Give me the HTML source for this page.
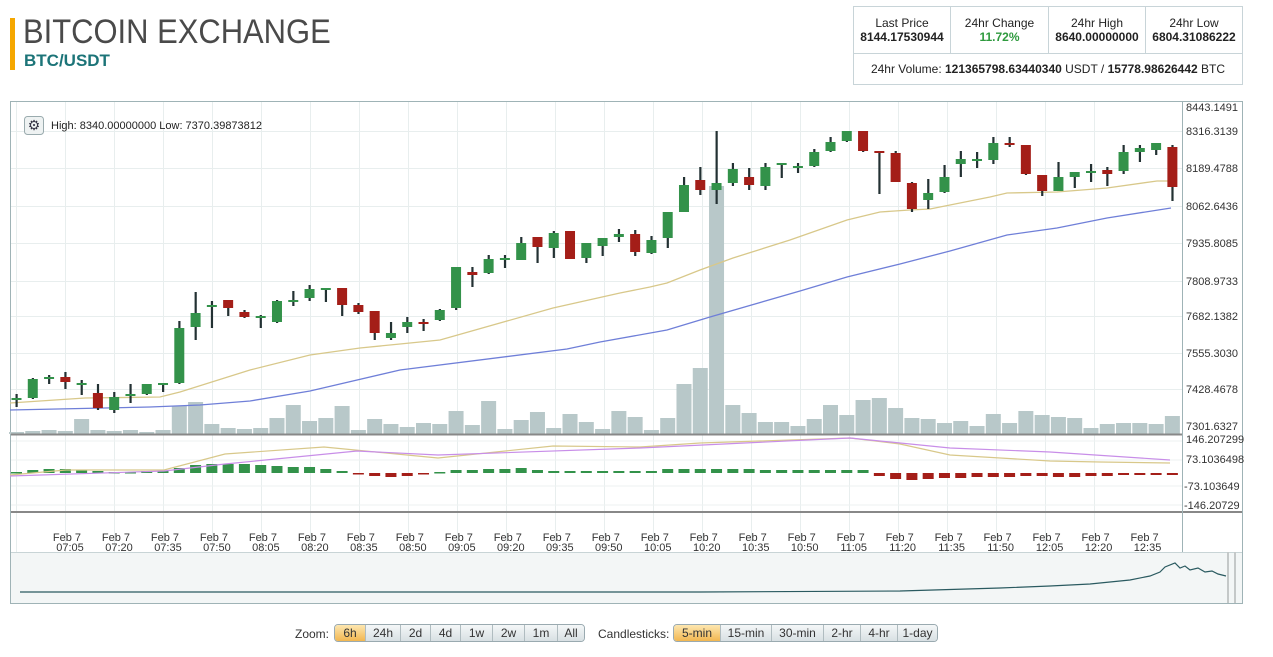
<!DOCTYPE html>
<html><head><meta charset="utf-8">
<style>
body{margin:0;width:1273px;height:657px;background:#fff;font-family:"Liberation Sans",sans-serif;position:relative;overflow:hidden}
.bar{position:absolute;left:10px;top:18px;width:5px;height:52px;background:#f5a700}
.t1{position:absolute;left:23px;top:13px;font-size:34px;color:#4a4a4a;transform:scaleX(0.91);transform-origin:0 0;white-space:nowrap}
.t2{position:absolute;left:24px;top:51px;font-size:17px;font-weight:bold;color:#1c7478}
table{position:absolute;left:853px;top:6px;border-collapse:collapse;font-size:12px;color:#222}
td{border:1px solid #c8d4d8;text-align:center;padding:0}
.btn{position:absolute;top:624px;height:16px;border:1px solid #9aaab0;border-radius:4px;display:flex;overflow:hidden;font-size:12px;color:#333}
.btn div{border-right:1px solid #b0bcc0;text-align:center;line-height:16px;background:linear-gradient(#f4f7f8,#d8e0e3)}
.btn div:last-child{border-right:none}
.btn .on{background:linear-gradient(#fde6b0,#f2b650)}
.lbl{position:absolute;top:627px;font-size:12px;color:#333}
</style></head><body>
<div class="bar"></div>
<div class="t1">BITCOIN EXCHANGE</div>
<div class="t2">BTC/USDT</div>
<table>
<tr style="height:47px"><td style="width:96px">Last Price<br><b>8144.17530944</b></td><td style="width:97px">24hr Change<br><b style="color:#2e9a3e">11.72%</b></td><td style="width:96px">24hr High<br><b>8640.00000000</b></td><td style="width:96px">24hr Low<br><b>6804.31086222</b></td></tr>
<tr style="height:31px"><td colspan="4">24hr Volume: <b>121365798.63440340</b> USDT / <b>15778.98626442</b> BTC</td></tr>
</table>
<svg id="c" width="1273" height="657" style="position:absolute;left:0;top:0" xmlns="http://www.w3.org/2000/svg">
<rect x="10.5" y="101.5" width="1232" height="502" fill="#fff" stroke="#9fb3b6"/>
<g id="grid" stroke="#e8eeee" stroke-width="1"></g>
<g id="vol" fill="#b8c8c9"></g>
<polyline fill="none" stroke="#d8c88a" stroke-width="1.3" points="10,403 85,398 160,397 180,392 250,370 310,355 360,348 400,344 440,340 553,308 620,293 650,287 667,283 700,270 733,258 790,240 847,220 880,212 910,210 930,209 990,197 1007,193 1057,192 1107,188 1157,181 1171,181"/>
<polyline fill="none" stroke="#6f7fd8" stroke-width="1.3" points="10,410 150,407 200,405 250,401 310,391 400,370 567,349 600,342 667,330 710,317 800,291 847,277 900,264 950,251 1007,235 1057,228 1107,218 1171,208"/>
<g id="cd"></g>
<line x1="11" y1="434.5" x2="1182" y2="434.5" stroke="#888" stroke-width="2"/>
<line x1="11" y1="512" x2="1242" y2="512" stroke="#888" stroke-width="2"/>
<g stroke="#eef2f2"><line x1="11" y1="441" x2="1182" y2="441"/><line x1="11" y1="460" x2="1182" y2="460"/><line x1="11" y1="486" x2="1182" y2="486"/><line x1="11" y1="505" x2="1182" y2="505"/></g>
<g id="osc"></g>
<polyline fill="none" stroke="#d8c88a" stroke-width="1.2" points="10,475 66,470 164,470 225,454 324,447 438,458 553,446 640,447 700,443 850,438 900,444 950,455 1050,461 1100,462 1170,463"/>
<polyline fill="none" stroke="#c88ee8" stroke-width="1.2" points="10,476 164,471 225,464 357,451 438,455 640,448 850,438 950,448 1050,452 1170,460"/>
<line x1="1182.5" y1="102" x2="1182.5" y2="552" stroke="#9fb3b6"/>
<g font-size="11" fill="#333" id="ax">
<text x="1186" y="111">8443.1491</text><text x="1186" y="135">8316.3139</text><text x="1186" y="172">8189.4788</text><text x="1186" y="210">8062.6436</text><text x="1186" y="247">7935.8085</text><text x="1186" y="285">7808.9733</text><text x="1186" y="320">7682.1382</text><text x="1186" y="357">7555.3030</text><text x="1186" y="393">7428.4678</text><text x="1186" y="430">7301.6327</text>
<text x="1186" y="443">146.207299</text><text x="1186" y="463">73.1036498</text><text x="1184" y="490">-73.103649</text><text x="1184" y="509">-146.20729</text>
</g>
<g font-size="11" fill="#333" text-anchor="middle" id="xl"></g>
<rect x="11" y="552" width="1231" height="51" fill="#f3f6f6"/>
<line x1="11" y1="552.5" x2="1242" y2="552.5" stroke="#c8d4d6"/>
<polyline fill="none" stroke="#2a5a60" stroke-width="1.2" points="20,592 300,592 700,592 900,591 1000,588 1050,586 1090,584 1130,580 1150,576 1160,572 1165,567 1175,563 1180,568 1185,566 1190,570 1198,568 1205,572 1212,571 1218,574 1226,576"/>
<rect x="1227" y="552" width="2" height="51" fill="#c4c8c8"/><rect x="1234" y="552" width="2" height="51" fill="#c4c8c8"/>
<rect x="24.5" y="116.5" width="19" height="18" rx="3" fill="#eef2f2" stroke="#9aabae"/>
<text x="34" y="130" font-size="14" text-anchor="middle" fill="#334">⚙</text>
<text x="51" y="129" font-size="11" fill="#222">High: 8340.00000000  Low: 7370.39873812</text>
</svg>
<div class="lbl" style="left:295px">Zoom:</div>
<div class="btn" style="left:334px;width:249px"><div class="on" style="width:30px">6h</div><div style="width:34px">24h</div><div style="width:29px">2d</div><div style="width:29px">4d</div><div style="width:31px">1w</div><div style="width:31px">2w</div><div style="width:32px">1m</div><div style="flex:1">All</div></div>
<div class="lbl" style="left:598px">Candlesticks:</div>
<div class="btn" style="left:673px;width:263px"><div class="on" style="width:46px">5-min</div><div style="width:50px">15-min</div><div style="width:51px">30-min</div><div style="width:36px">2-hr</div><div style="width:36px">4-hr</div><div style="flex:1">1-day</div></div>
<script>
var NS="http://www.w3.org/2000/svg";
function el(p,t,a){var e=document.createElementNS(NS,t);for(var k in a)e.setAttribute(k,a[k]);p.appendChild(e);return e;}
var g=document.getElementById('grid');
[131,168,206,243,281,316,353,389].forEach(function(y){el(g,'line',{x1:11,x2:1182,y1:y+.5,y2:y+.5});});
for(var i=0;i<23;i++){var x=Math.round(16+i*48.98)+.5;el(g,'line',{x1:x,x2:x,y1:102,y2:552});}
var xl=document.getElementById('xl');
var times=["07:05","07:20","07:35","07:50","08:05","08:20","08:35","08:50","09:05","09:20","09:35","09:50","10:05","10:20","10:35","10:50","11:05","11:20","11:35","11:50","12:05","12:20","12:35"];
times.forEach(function(t,i){var x=67+i*48.98;var a=el(xl,'text',{x:x,y:541});a.textContent="Feb 7";var b=el(xl,'text',{x:x+3,y:551});b.textContent=t;});
var C=[[398,400,394,407,'g'],[379,398,378,399,'g'],[377,379,375,384,'g'],[377,382,372,389,'r'],[383,385,380,395,'g'],[393,408,384,410,'r'],[397,410,392,413,'g'],[394,396,384,403,'g'],[384,394,384,395,'g'],[383,385,384,392,'g'],
[328,383,321,384,'g'],[313,327,292,340,'g'],[305,307,301,328,'g'],[300,308,300,316,'r'],[312,317,310,318,'r'],[316,318,315,328,'g'],[301,322,300,323,'g'],[300,302,291,306,'g'],[289,298,285,301,'g'],[288,290,288,302,'g'],
[288,305,288,316,'r'],[305,312,303,314,'r'],[311,333,311,340,'r'],[333,338,322,340,'g'],[322,327,317,333,'g'],[322,324,319,331,'r'],[310,320,309,321,'g'],[267,308,267,310,'g'],[272,275,267,287,'r'],[259,273,255,274,'g'],
[258,260,255,268,'g'],[243,260,237,260,'g'],[237,247,237,263,'r'],[233,248,231,258,'g'],[231,259,231,259,'r'],[243,258,243,263,'g'],[238,246,238,256,'g'],[234,237,229,242,'g'],[234,252,230,256,'r'],[240,253,236,254,'g'],
[212,238,212,248,'g'],[185,212,177,212,'g'],[180,190,167,195,'r'],[183,190,131,204,'g'],[169,183,163,186,'g'],[177,185,168,190,'r'],[167,186,163,190,'g'],[163,165,163,178,'g'],[166,168,163,173,'g'],[152,166,149,167,'g'],
[142,151,137,152,'g'],[131,141,131,142,'g'],[131,151,131,152,'r'],[151,153,152,194,'r'],[153,182,151,182,'r'],[183,209,182,212,'r'],[193,200,179,209,'g'],[177,192,165,193,'g'],[159,164,151,177,'g'],[159,161,152,168,'g'],
[143,160,137,164,'g'],[143,145,137,147,'r'],[145,174,145,175,'r'],[175,191,175,196,'r'],[177,191,162,191,'g'],[172,177,172,188,'g'],[171,173,164,182,'g'],[170,174,167,186,'r'],[152,171,145,174,'g'],[148,152,145,162,'g'],[143,150,143,155,'g'],[147,187,145,201,'r']];
var V=[432,431,430,431,419,430,431,430,432,430,406,402,424,428,429,428,418,405,421,418,406,430,419,424,427,423,424,411,425,401,429,420,412,428,414,422,429,411,417,430,418,384,368,186,405,413,422,422,426,419,405,415,400,398,408,418,419,423,421,426,414,423,411,415,417,418,428,424,423,423,424,416];
var O=[472,470,469,469,470,471,472,472,471,471,468,465,464,464,464,465,466,467,467,469,471,-474,-476,-477,-476,-474,472,470,470,469,469,468,470,471,471,471,471,471,471,471,469,469,469,469,469,469,470,470,470,470,470,470,470,-476,-479,-480,-479,-478,-478,-477,-477,-477,-476,-476,-477,-477,-476,-476,-475,-475,-475,-475];
var cd=document.getElementById('cd'),vg=document.getElementById('vol'),og=document.getElementById('osc');
for(var i=0;i<C.length;i++){var x=16.5+i*16.28,c=C[i];
 el(vg,'rect',{x:x-7.5,y:V[i],width:15,height:434-V[i]});
 el(cd,'rect',{x:x-1,y:c[2],width:2.2,height:c[3]-c[2],fill:'#233133'});
 var h=Math.max(2,c[1]-c[0]);
 el(cd,'rect',{x:x-5,y:c[0],width:10,height:h,fill:c[4]=='g'?'#33924a':'#a41e18'});
 var o=O[i];
 if(o>0)el(og,'rect',{x:x-5.5,y:o,width:11,height:Math.max(1.5,473-o),fill:'#33924a'});
 else el(og,'rect',{x:x-5.5,y:473,width:11,height:Math.max(1.5,-o-473),fill:'#a41e18'});
}
</script>
</body></html>
